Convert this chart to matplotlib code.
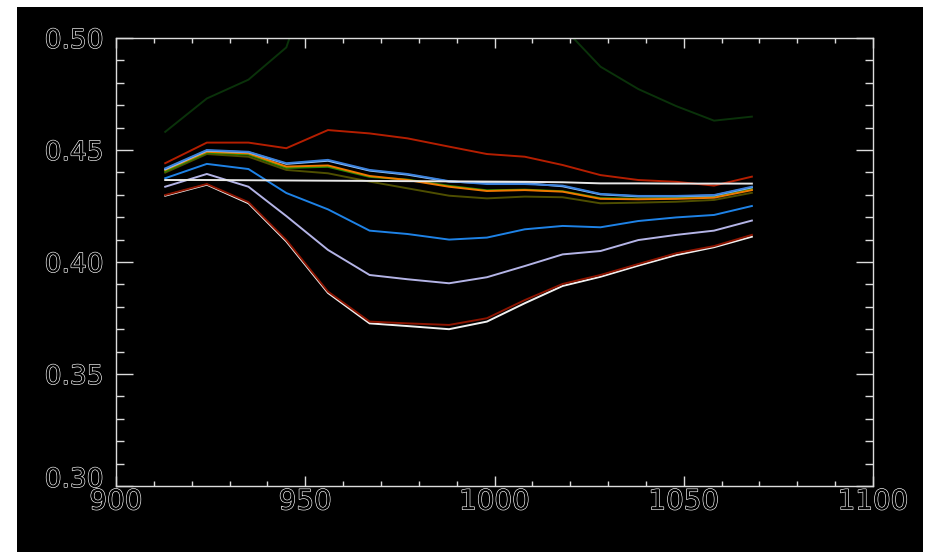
import matplotlib
matplotlib.use("Agg")
import matplotlib.pyplot as plt
from matplotlib import font_manager
from matplotlib.patches import Rectangle
from matplotlib.ticker import MultipleLocator, FixedLocator
from matplotlib.transforms import ScaledTranslation
import matplotlib.patheffects as pe

# ---------------- data ----------------
wavelength = [913, 924, 935, 945, 956, 967, 977, 988, 998, 1008, 1018, 1028, 1038, 1048, 1058, 1068]

dark_green = [0.4581, 0.4730, 0.4814, 0.4958, 0.550, 0.575, 0.585, 0.585, 0.575, 0.555, 0.505,
              0.4872, 0.4772, 0.4696, 0.4631, 0.4649]
red_top = [0.4441, 0.4533, 0.4533, 0.4508, 0.4589, 0.4574, 0.4552, 0.4515, 0.4482, 0.4470, 0.4433,
           0.4388, 0.4366, 0.4358, 0.4341, 0.4381]
blue1 = [0.4418, 0.4500, 0.4492, 0.4441, 0.4456, 0.4411, 0.4393, 0.4361, 0.4348, 0.4348, 0.4341,
         0.4304, 0.4295, 0.4295, 0.4299, 0.4336]
light_blue = [0.4414, 0.4497, 0.4490, 0.4438, 0.4452, 0.4408, 0.4390, 0.4359, 0.4352, 0.4352, 0.4338,
              0.4302, 0.4293, 0.4293, 0.4297, 0.4333]
orange = [0.4411, 0.4492, 0.4485, 0.4426, 0.4431, 0.4384, 0.4366, 0.4336, 0.4317, 0.4321, 0.4314,
          0.4282, 0.4280, 0.4282, 0.4287, 0.4321]
green = [0.4405, 0.4488, 0.4480, 0.4420, 0.4425, 0.4380, 0.4368, 0.4340, 0.4320, 0.4323, 0.4316,
         0.4285, 0.4283, 0.4285, 0.4290, 0.4325]
olive = [0.4399, 0.4482, 0.4470, 0.4411, 0.4396, 0.4359, 0.4329, 0.4296, 0.4284, 0.4292, 0.4289,
         0.4262, 0.4265, 0.4269, 0.4277, 0.4309]
white_ref = [0.4366, 0.4366, 0.4365, 0.4364, 0.4363, 0.4362, 0.4361, 0.4360, 0.4359, 0.4358, 0.4356,
             0.4351, 0.4351, 0.4350, 0.4350, 0.4350]
blue2 = [0.4374, 0.4438, 0.4415, 0.4308, 0.4235, 0.4140, 0.4125, 0.4100, 0.4109, 0.4146, 0.4161,
         0.4155, 0.4183, 0.4199, 0.4210, 0.4250]
lavender = [0.4336, 0.4393, 0.4336, 0.4205, 0.4054, 0.3942, 0.3923, 0.3905, 0.3932, 0.3982, 0.4034,
            0.4049, 0.4098, 0.4121, 0.4140, 0.4185]
dark_red = [0.4299, 0.4348, 0.4267, 0.4098, 0.3868, 0.3734, 0.3726, 0.3719, 0.3749, 0.3830, 0.3902,
            0.3942, 0.3991, 0.4039, 0.4071, 0.4121]
white_low = [0.4296, 0.4345, 0.4262, 0.4092, 0.3862, 0.3726, 0.3714, 0.3700, 0.3734, 0.3816, 0.3893,
             0.3934, 0.3984, 0.4031, 0.4066, 0.4113]

x_ticks = [900, 950, 1000, 1050, 1100]
x_tick_labels = ["900", "950", "1000", "1050", "1100"]
y_ticks = [0.30, 0.35, 0.40, 0.45, 0.50]
y_tick_labels = ["0.30", "0.35", "0.40", "0.45", "0.50"]

series = [
    (dark_green, "#0a320a"),
    (olive, "#4e4e00"),
    (green, "#2a8a00"),
    (orange, "#f07800"),
    (light_blue, "#96c8ff"),
    (blue1, "#3c82dc"),
    (red_top, "#b41e00"),
    (blue2, "#1e82e6"),
    (lavender, "#b4b4e6"),
    (white_low, "#f0f0f0"),
    (dark_red, "#8c1400"),
    (white_ref, "#e8e8e8"),
]

# ---------------- figure ----------------
W, H = 926, 552
fig = plt.figure(figsize=(W / 100, H / 100), dpi=100, facecolor="white")
fig.patches.append(Rectangle((17 / W, 0), (923 - 17) / W, (H - 7) / H,
                             transform=fig.transFigure, facecolor="black",
                             edgecolor="none", zorder=-10))

ax = fig.add_axes([116 / W, (H - 486) / H, (873 - 116) / W, (486 - 38) / H])
ax.set_facecolor("black")

for vals, col in series:
    ax.plot(wavelength, vals, color=col, lw=1.4, solid_joinstyle="miter")

ax.set_xlim(900, 1100)
ax.set_ylim(0.30, 0.50)

names = {f.name for f in font_manager.fontManager.ttflist}
fam = "Liberation Sans Narrow" if "Liberation Sans Narrow" in names else "DejaVu Sans"
narrow = fam == "Liberation Sans Narrow"
xsize = 25 if narrow else 20
ysize = 21 if narrow else 19

ax.xaxis.set_major_locator(FixedLocator(x_ticks))
ax.set_xticklabels(x_tick_labels)
ax.xaxis.set_minor_locator(MultipleLocator(10))
ax.yaxis.set_major_locator(FixedLocator(y_ticks))
ax.set_yticklabels(y_tick_labels)
ax.yaxis.set_minor_locator(MultipleLocator(0.01))

spine_col = "#dcdcdc"
for s in ax.spines.values():
    s.set_color(spine_col)
    s.set_linewidth(1.0)

ax.tick_params(axis="x", which="major", direction="in", length=7, width=1.0,
               color=spine_col, top=True, bottom=True, pad=1)
ax.tick_params(axis="x", which="minor", direction="in", length=3.5, width=1.0,
               color=spine_col, top=True, bottom=True)
ax.tick_params(axis="y", which="major", direction="in", length=12, width=1.0,
               color=spine_col, left=True, right=True, pad=9)
ax.tick_params(axis="y", which="minor", direction="in", length=6, width=1.0,
               color=spine_col, left=True, right=True)

effects = [pe.withStroke(linewidth=0.9, foreground="white")]
for lab in ax.get_xticklabels():
    lab.set_fontfamily(fam)
    lab.set_fontsize(xsize)
    lab.set_color("black")
    lab.set_path_effects(effects)
for lab in ax.get_yticklabels():
    lab.set_fontfamily(fam)
    lab.set_fontsize(ysize)
    lab.set_color("black")
    lab.set_path_effects(effects)

# bottom y label sits a little higher, as in the original
for lab in ax.get_yticklabels():
    if lab.get_text() == "0.30":
        lab.set_transform(lab.get_transform() + ScaledTranslation(0, 9 / 100, fig.dpi_scale_trans))

fig.savefig("out.png", dpi=100, facecolor=fig.get_facecolor())
